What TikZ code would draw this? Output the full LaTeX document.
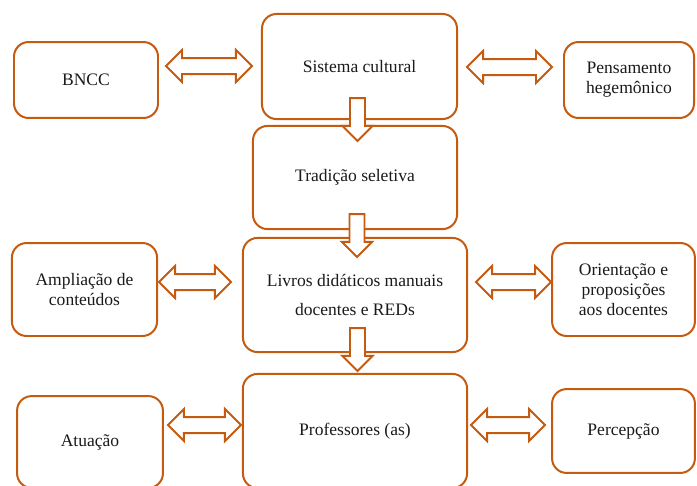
\documentclass[tikz,border=0pt]{standalone}
\usepackage{fontspec}
\setmainfont{Liberation Serif}
\usetikzlibrary{calc}
\definecolor{Rust}{HTML}{C55A11}
\definecolor{TextDark}{HTML}{1A1A1A}

\begin{document}
\begin{tikzpicture}[x=0.02646cm,y=-0.02646cm,every node/.style={font=\fontsize{13.2}{15}\selectfont,text=TextDark},box/.style={draw=Rust,line width=1.5pt,rounded corners=11pt,fill=white,align=center,inner sep=2pt},dblarrow/.style={draw=Rust,fill=white,line width=1.5pt,to path={-- ($(\tikztostart)+(16,-16)$) -- ($(\tikztostart)+(16,-8)$) -- ($(\tikztotarget)+(-16,-8)$) -- ($(\tikztotarget)+(-16,-16)$) -- (\tikztotarget) -- ($(\tikztotarget)+(-16,16)$) -- ($(\tikztotarget)+(-16,8)$) -- ($(\tikztostart)+(16,8)$) -- ($(\tikztostart)+(16,16)$) -- cycle}},downarrow/.style={draw=Rust,fill=white,line width=1.5pt,to path={($(\tikztostart)+(-7.5,0)$) -- ($(\tikztotarget)+(-7.5,-15)$) -- ($(\tikztotarget)+(-15,-15)$) -- (\tikztotarget) -- ($(\tikztotarget)+(15,-15)$) -- ($(\tikztotarget)+(7.5,-15)$) -- ($(\tikztostart)+(7.5,0)$) -- cycle}}]
\useasboundingbox[fill=white] (0,0) rectangle (697,485);
\node[box,minimum width=3.81cm,minimum height=2.01cm](bncc) at (86,80){BNCC};
\node[box,minimum width=5.16cm,minimum height=2.78cm](sist) at (359.5,66.5){Sistema cultural};
\node[box,minimum width=3.44cm,minimum height=2.01cm](pens) at (629,80){Pensamento\\hegemônico};
\node[box,minimum width=5.40cm,minimum height=2.73cm](trad) at (355,177.5){Tradição seletiva};
\node[box,minimum width=3.84cm,minimum height=2.46cm](ampl) at (84.5,289.5){Ampliação de\\conteúdos};
\node[box,minimum width=5.93cm,minimum height=3.02cm](livros) at (355,295){Livros didáticos manuais\\[7.5pt]docentes e REDs};
\node[box,minimum width=3.78cm,minimum height=2.46cm](orient) at (623.5,289.5){Orientação e\\proposições\\aos docentes};
\node[box,minimum width=3.86cm,minimum height=2.43cm](atua) at (90,442){Atuação};
\node[box,minimum width=5.93cm,minimum height=3.02cm](prof) at (355,431){Professores (as)};
\node[box,minimum width=3.78cm,minimum height=2.22cm](perc) at (623.5,431){Percepção};
\draw[dblarrow] ($(bncc.east)+(7,-14)$) to ($(sist.west)+(-9,-0.5)$);
\draw[dblarrow] ($(sist.east)+(9,0.5)$) to ($(pens.west)+(-11,-13)$);
\draw[dblarrow] ($(ampl.east)+(1,-7.5)$) to ($(livros.west)+(-11,-13)$);
\draw[dblarrow] ($(livros.east)+(8,-13)$) to ($(orient.west)+(0,-7.5)$);
\draw[dblarrow] ($(atua.east)+(4,-17)$) to ($(prof.west)+(-1,-6)$);
\draw[dblarrow] ($(prof.east)+(3,-6)$) to ($(perc.west)+(-6,-6)$);
\draw[downarrow] ($(sist.south)+(-2,-22)$) to ($(trad.north)+(2.5,16)$);
\draw[downarrow] ($(trad.south)+(2,-16)$) to ($(livros.north)+(2,20)$);
\draw[downarrow] ($(livros.south)+(2.5,-25)$) to ($(prof.north)+(2.5,-2)$);
\end{tikzpicture}
\end{document}
